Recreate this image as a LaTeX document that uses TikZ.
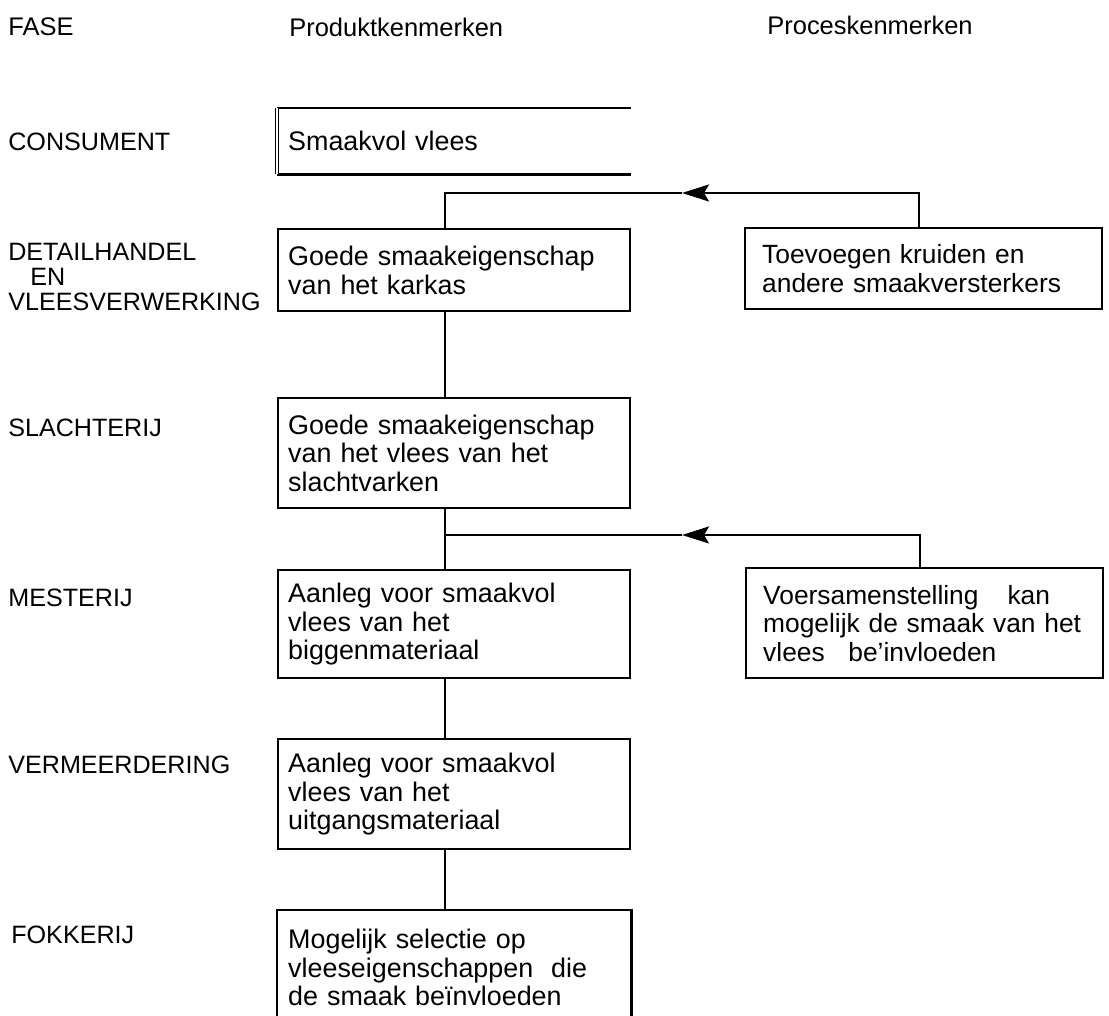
\documentclass[tikz,border=0pt]{standalone}
\usepackage{fontspec}
\setmainfont{Liberation Sans}
\usetikzlibrary{positioning,calc,arrows.meta}

\begin{document}
\begin{tikzpicture}[
    x=0.02cm, y=-0.02cm,
    every node/.style={font=\fontsize{15.3}{16.3}\selectfont},
    phase/.style={anchor=west, inner sep=0pt, align=left, font=\fontsize{14.3}{14.2}\selectfont},
    head/.style={anchor=west, inner sep=0pt, font=\fontsize{14.5}{16}\selectfont},
    prod/.style={draw=black, line width=1.4pt, anchor=north west, text width=6.64cm, inner xsep=0.2cm, align=left},
    proc/.style={draw=black, line width=1.4pt, anchor=north west, text width=6.46cm, inner xsep=0.34cm, align=left, font=\fontsize{15}{16.3}\selectfont},
    edge/.style={line width=1.4pt},
    link/.style={line width=1.2pt},
    feed/.style={line width=1.2pt, -{Stealth[length=0.54cm, width=0.34cm, inset=0.1cm]}}
]
\useasboundingbox (0,0) rectangle (1109,1016);

% Column headers
\node[head] (fase) at (8,27) {FASE};
\node[head] (prodhead) at (289,27) {Produktkenmerken};
\node[head] (prochead) at (767,25) {Proceskenmerken};

% Phases
\node[phase] (consument) at (8,142) {CONSUMENT};
\node[phase] (detailhandel) at (8,277) {DETAILHANDEL\\\hspace*{12.5pt}EN\\VLEESVERWERKING};
\node[phase] (slachterij) at (8,428) {SLACHTERIJ};
\node[phase] (mesterij) at (8,598) {MESTERIJ};
\node[phase] (vermeerdering) at (8,765) {VERMEERDERING};
\node[phase] (fokkerij) at (11,935) {FOKKERIJ};

% Product column
\node[prod, draw=none, minimum height=1.28cm] (smaakvol) at (277,108) {Smaakvol vlees};
\draw[edge] (smaakvol.north east) -- (smaakvol.north west);
\draw[edge] (smaakvol.south west) -- (smaakvol.south east);
\draw[line width=0.8pt, double, double distance=1.2pt] (smaakvol.north west) -- (smaakvol.south west);

\node[prod, minimum height=1.64cm] (karkas) at (277,228) {Goede smaakeigenschap\\van het karkas};
\node[prod, minimum height=2.2cm] (slachtvarken) at (277,397) {Goede smaakeigenschap\\van het vlees van het\\slachtvarken};
\node[prod, minimum height=2.16cm] (biggen) at (277,569) {Aanleg voor smaakvol\\vlees van het\\biggenmateriaal};
\node[prod, minimum height=2.2cm] (uitgang) at (277,738) {Aanleg voor smaakvol\\vlees van het\\uitgangsmateriaal};
\node[prod, draw=none, minimum height=2.26cm] (selectie) at (277,910) {Mogelijk selectie op\\vleeseigenschappen\ \ die\\de smaak beïnvloeden};
\draw[edge] (selectie.south west) -- (selectie.north west) -- (selectie.north east) -- (selectie.south east);

% Process column
\node[proc, minimum height=1.62cm] (kruiden) at (744,227) {Toevoegen kruiden en\\andere smaakversterkers};
\node[proc, minimum height=2.2cm] (voer) at (745,567) {Voersamenstelling\hspace{1.1em}kan\\mogelijk de smaak van het\\vlees\hspace{0.9em}be’invloeden};

% Connectors
\coordinate (spine) at (445,0);
\coordinate (join1) at (445,193);
\coordinate (tip1) at (682,193);
\coordinate (join2) at (445,535);
\coordinate (tip2) at (682,535);

\draw[feed] ($(kruiden.north)+(-5,0)$) |- (tip1);
\draw[link] (tip1) -- (join1) -- (karkas.north -| spine);
\draw[link] (karkas.south -| spine) -- (slachtvarken.north -| spine);
\draw[link] (slachtvarken.south -| spine) -- (biggen.north -| spine);
\draw[feed] ($(voer.north)+(-5,0)$) |- (tip2);
\draw[link] (tip2) -- (join2);
\draw[link] (biggen.south -| spine) -- (uitgang.north -| spine);
\draw[link] (uitgang.south -| spine) -- (selectie.north -| spine);

\end{tikzpicture}
\end{document}
